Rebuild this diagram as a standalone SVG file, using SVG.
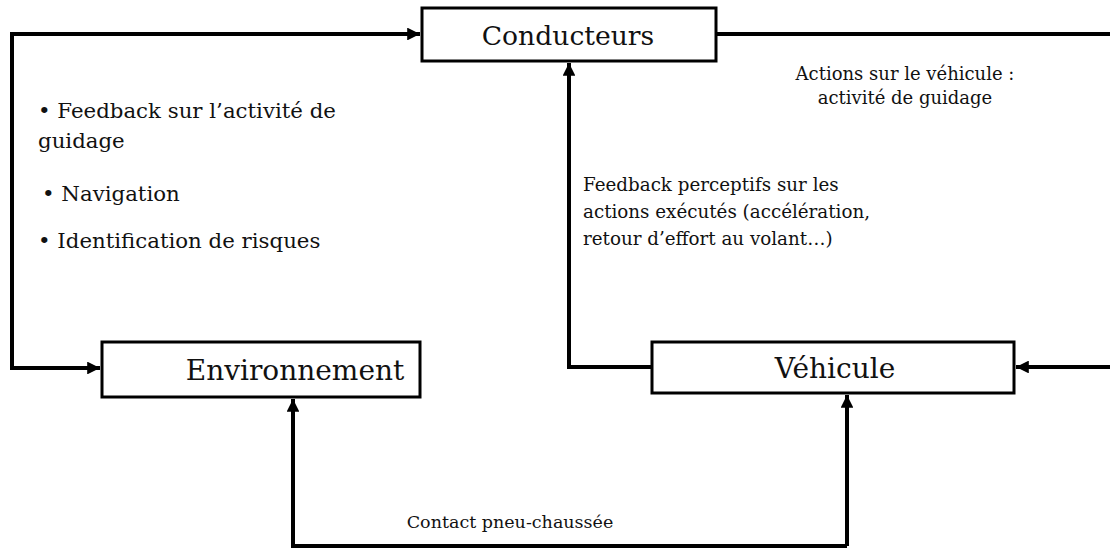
<svg xmlns="http://www.w3.org/2000/svg" width="1110" height="549" viewBox="0 0 1110 549">
<style>
.box{fill:#fff;stroke:#000;stroke-width:3}
.lbl{font-family:"DejaVu Serif","Liberation Serif",serif;font-size:28px;fill:#111;text-anchor:middle}
.ann{font-family:"DejaVu Serif","Liberation Serif",serif;font-size:18.3px;fill:#111}
.annl{font-family:"DejaVu Serif","Liberation Serif",serif;font-size:21.3px;fill:#111}
.con{fill:none;stroke:#000;stroke-width:4}
</style>
<defs>
<marker id="ah" viewBox="0 0 10 10" refX="10" refY="5" markerWidth="3.2" markerHeight="3.2" orient="auto" markerUnits="strokeWidth">
<path d="M0,0 L10,5 L0,10 z" fill="#000"/>
</marker>
</defs>
<rect width="1110" height="549" fill="#fff"/>
<g id="connectors">
<path class="con" d="M12,34 V368 H100" marker-end="url(#ah)"/>
<path class="con" d="M10,34 H420" marker-end="url(#ah)"/>
<path class="con" d="M716,34 H1110"/>
<path class="con" d="M1110,367 H1016" marker-end="url(#ah)"/>
<path class="con" d="M652,367 H569 V63" marker-end="url(#ah)"/>
<path class="con" d="M847,546 H293 V399" marker-end="url(#ah)"/>
<path class="con" d="M847,546 V395" marker-end="url(#ah)"/>
</g>
<g id="conducteurs">
<rect class="box" x="422" y="8" width="294" height="53"/>
<text class="lbl" x="568" y="45" style="font-size:26.6px">Conducteurs</text>
</g>
<g id="environnement">
<rect class="box" x="102" y="342" width="318" height="55"/>
<text class="lbl" x="295" y="380">Environnement</text>
</g>
<g id="vehicule">
<rect class="box" x="652" y="342" width="362" height="51"/>
<text class="lbl" x="835" y="378">Véhicule</text>
</g>
<g id="labels">
<text class="ann" x="905" y="80" text-anchor="middle" style="font-size:18px">Actions sur le véhicule :</text>
<text class="ann" x="905" y="104" text-anchor="middle" style="font-size:18px">activité de guidage</text>
<text class="annl" x="38" y="118">• Feedback sur l’activité de</text>
<text class="annl" x="38" y="148">guidage</text>
<text class="annl" x="42" y="201">•  Navigation</text>
<text class="annl" x="38" y="248">• Identification de risques</text>
<text class="ann" x="583" y="191">Feedback perceptifs sur les</text>
<text class="ann" x="583" y="218">actions exécutés (accélération,</text>
<text class="ann" x="583" y="245">retour d’effort au volant…)</text>
<text class="ann" x="510" y="528" text-anchor="middle" style="font-size:17.5px">Contact pneu-chaussée</text>
</g>
</svg>
